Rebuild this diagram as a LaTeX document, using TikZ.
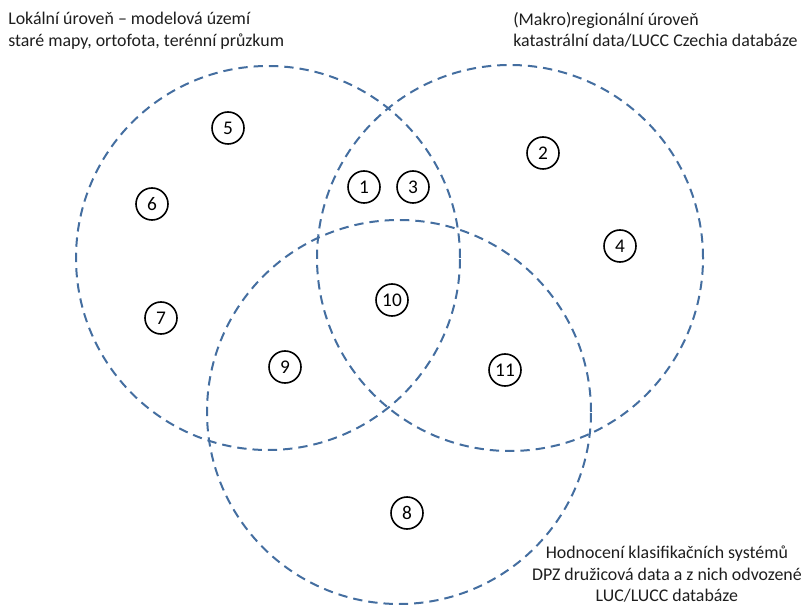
\documentclass[tikz,border=0pt]{standalone}
\usepackage{fontspec}
\setmainfont{Carlito}
\usepackage{tikz}
\usetikzlibrary{positioning}
\definecolor{setblue}{RGB}{68, 110, 160}
\definecolor{textgray}{RGB}{30, 30, 30}

\begin{document}
\begin{tikzpicture}[x=0.75pt, y=-0.75pt,
    setline/.style={setblue, line width=1.5pt, dash pattern=on 7pt off 4.5pt},
    numcircle/.style={draw, circle, line width=1.2pt, minimum size=24pt, inner sep=0pt, font=\fontsize{14.5}{16}\selectfont},
    settext/.style={font=\fontsize{13.4}{16.2}\selectfont, text=textgray, inner sep=0pt}]
    \useasboundingbox (0, 0) rectangle (805, 605);

    % Sets
    \draw[setline] (268, 258) circle[radius=144pt];
    \draw[setline] (510, 258) circle[radius=144.75pt];
    \draw[setline] (399, 412) circle[radius=144pt];

    % Set labels
    \node[settext, anchor=north west, align=left] (lokal) at (8, 12)
        {Lokální úroveň – modelová území\\staré mapy, ortofota, terénní průzkum};
    \node[settext, anchor=north west, align=left] (makro) at (513, 12)
        {(Makro)regionální úroveň\\katastrální data/LUCC Czechia databáze};
    \node[settext, anchor=south east, align=center] (dpz) at (802, 603)
        {Hodnocení klasifikačních systémů\\DPZ družicová data a z nich odvozené\\LUC/LUCC databáze};

    % Numbers
    \foreach \n/\x/\y in {1/364/187, 2/543/153, 3/413/187, 4/620/246, 5/228/128,
                          6/152/204, 7/161/318, 8/407/513, 9/285/367, 10/392/300, 11/505/370} {
        \node[numcircle] (n\n) at (\x, \y) {\n};
    }

\end{tikzpicture}
\end{document}
